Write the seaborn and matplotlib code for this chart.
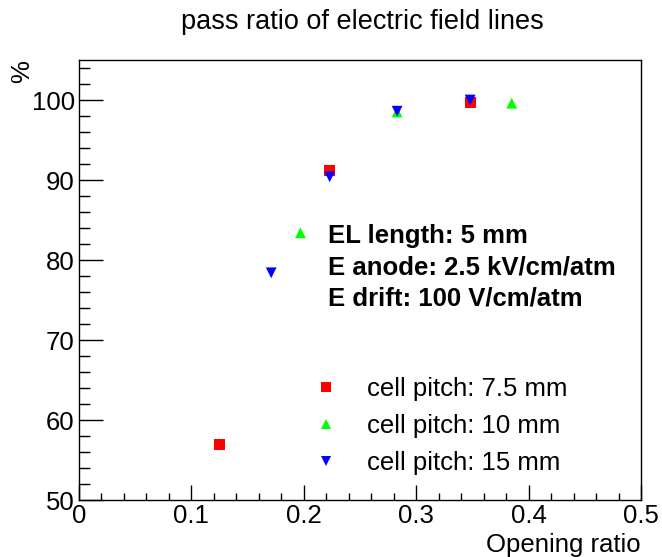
import matplotlib
matplotlib.use("Agg")
import matplotlib.pyplot as plt
from matplotlib.ticker import MultipleLocator
import seaborn as sns
import pandas as pd

# data
x_75 = [0.125, 0.223, 0.348]
y_75 = [56.9, 91.2, 99.7]
x_10 = [0.197, 0.283, 0.385]
y_10 = [83.4, 98.5, 99.6]
x_15 = [0.171, 0.223, 0.283, 0.348]
y_15 = [78.4, 90.4, 98.6, 100.0]
labels = ["cell pitch: 7.5 mm", "cell pitch: 10 mm", "cell pitch: 15 mm"]
info_lines = ["EL length: 5 mm", "E anode: 2.5 kV/cm/atm", "E drift: 100 V/cm/atm"]

df = pd.concat([
    pd.DataFrame({"x": x_75, "y": y_75, "s": labels[0]}),
    pd.DataFrame({"x": x_10, "y": y_10, "s": labels[1]}),
    pd.DataFrame({"x": x_15, "y": y_15, "s": labels[2]}),
], ignore_index=True)

sns.set_theme(style="white")
plt.rcParams["font.family"] = ["Liberation Sans", "DejaVu Sans"]
plt.rcParams["text.color"] = "black"
plt.rcParams["axes.labelcolor"] = "black"
plt.rcParams["xtick.color"] = "black"
plt.rcParams["ytick.color"] = "black"

FS = 18.5

fig = plt.figure(figsize=(6.62, 5.57), dpi=100)
ax = fig.add_axes([79/662, 1-500/557, (641-79)/662, (500-60)/557])

palette = {labels[0]: "#ff0000", labels[1]: "#00ff00", labels[2]: "#0000ff"}
markers = {labels[0]: "s", labels[1]: "^", labels[2]: "v"}
sns.scatterplot(data=df, x="x", y="y", hue="s", style="s", palette=palette,
                markers=markers, s=60, edgecolor="none", linewidth=0, ax=ax, zorder=3)

ax.set_xlim(0, 0.5)
ax.set_ylim(50, 105)
ax.xaxis.set_major_locator(MultipleLocator(0.1))
ax.xaxis.set_minor_locator(MultipleLocator(0.02))
ax.yaxis.set_major_locator(MultipleLocator(10))
ax.yaxis.set_minor_locator(MultipleLocator(2))
ax.set_xticks([0, 0.1, 0.2, 0.3, 0.4, 0.5])
ax.set_xticklabels(["0", "0.1", "0.2", "0.3", "0.4", "0.5"])
ax.tick_params(axis="x", which="major", direction="in", length=11, width=1, labelsize=FS, pad=3, colors="black")
ax.tick_params(axis="x", which="minor", direction="in", length=5, width=1)
ax.tick_params(axis="y", which="major", direction="in", length=17, width=1, labelsize=FS, pad=3, colors="black")
ax.tick_params(axis="y", which="minor", direction="in", length=8, width=1)
ax.tick_params(bottom=True, left=True, which="both")
for sp in ax.spines.values():
    sp.set_color("black")
    sp.set_linewidth(1)
    sp.set_visible(True)

ax.set_xlabel("")
ax.set_ylabel("")
fig.text(641/662, 1-545/557, "Opening ratio", ha="right", va="center", fontsize=FS)
fig.text(22/662, 1-72/557, "%", ha="center", va="center", fontsize=FS, rotation=90)
fig.text(362/662, 1-22/557, "pass ratio of electric field lines", ha="center", va="center", fontsize=19.5)

for i, line in enumerate(info_lines):
    fig.text(328/662, 1-(236+31*i)/557, line, ha="left", va="center", fontsize=FS, fontweight="bold")

ax.legend(loc="upper left", bbox_to_anchor=(313/662, 1-377/557), bbox_transform=fig.transFigure,
          frameon=False, fontsize=FS, handlelength=1.0, handletextpad=1.1, labelspacing=0.5,
          markerscale=0.85, borderaxespad=0, borderpad=0)

fig.savefig("out.png", dpi=100)
